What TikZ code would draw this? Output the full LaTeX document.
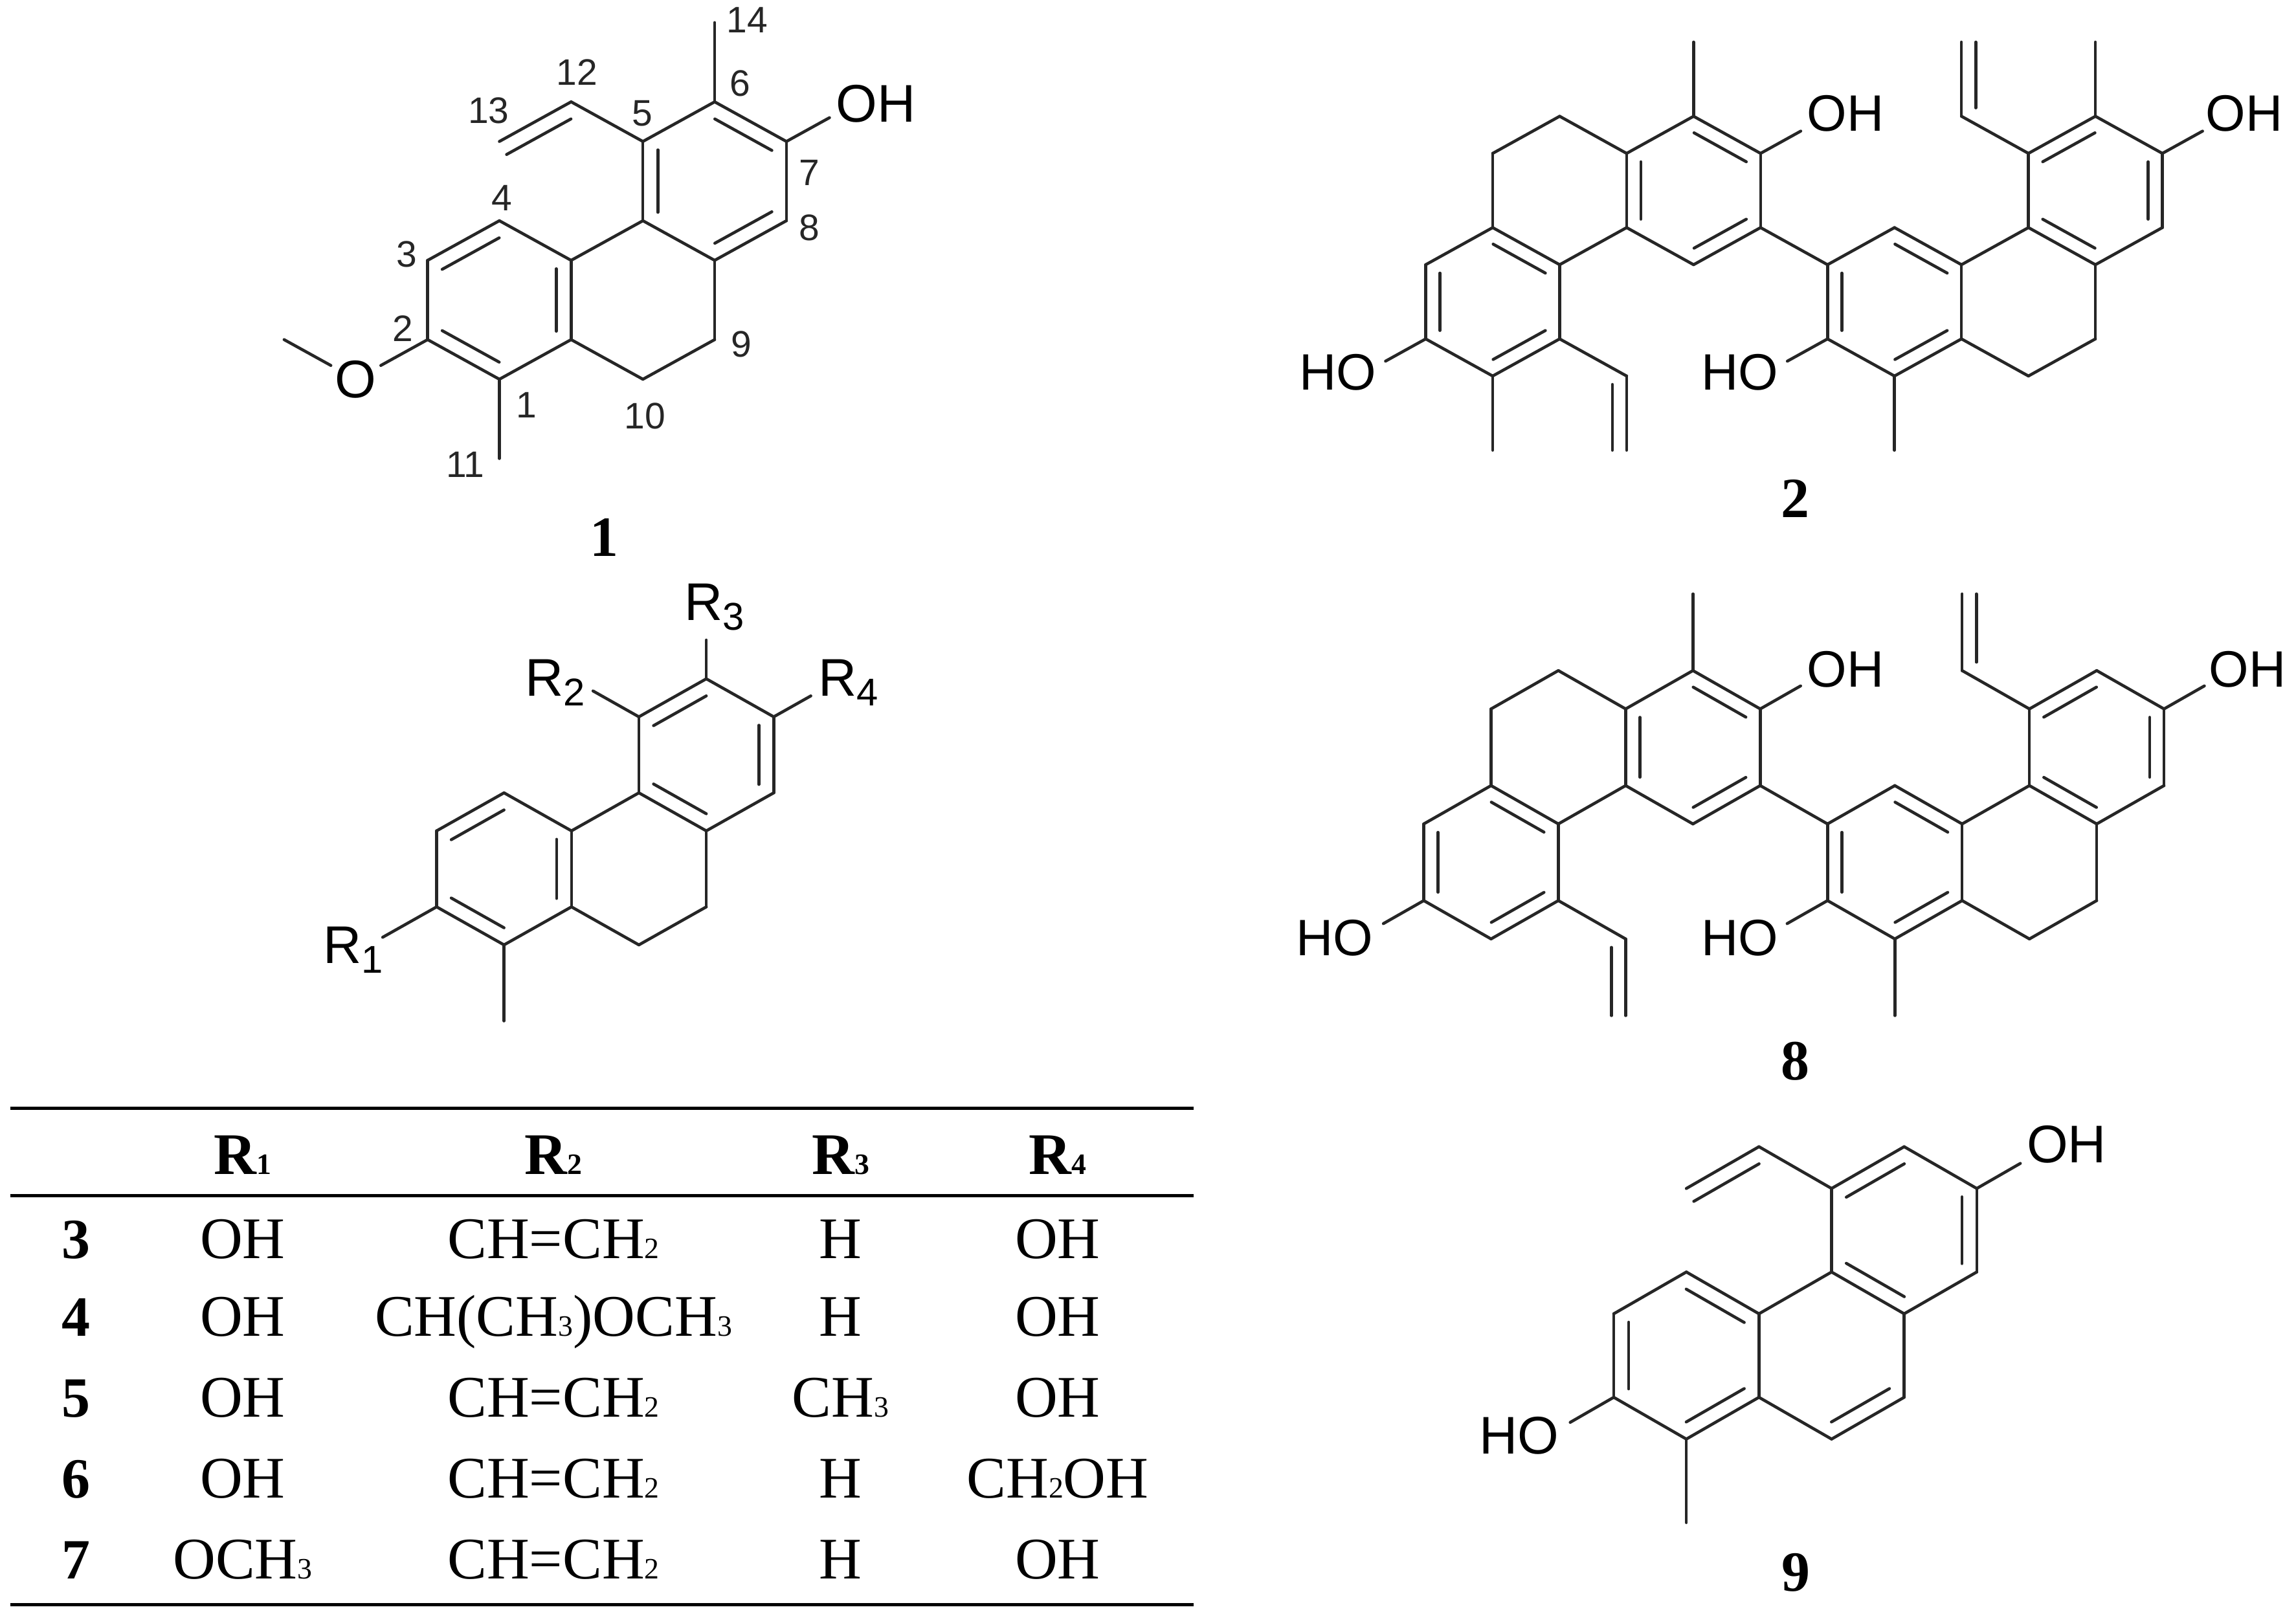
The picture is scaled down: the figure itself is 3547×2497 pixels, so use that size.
\documentclass[tikz,border=0pt]{standalone}
\usepackage{fontspec}
\setmainfont{Liberation Sans}
\newfontfamily\tabfont{Liberation Serif}
\usetikzlibrary{calc}
\newcommand\rsub[1]{\raisebox{-4.5pt}{\fontsize{17}{17}\selectfont #1}}
\newcommand\tabsub[1]{{\fontsize{13}{13}\selectfont #1}}

\begin{document}
\begin{tikzpicture}[
    x=0.01cm, y=-0.01cm,
    bond/.style={line width=1.3pt, color=black!85, line cap=round},
    inner/.style={bond, shorten <=0.13cm, shorten >=0.13cm},
    hetero/.style={font=\fontsize{#1}{#1}\selectfont, inner sep=0pt},
    hetero/.default=23.3,
    num/.style={font=\fontsize{16.2}{16.2}\selectfont, inner sep=0pt, color=black!85},
    cmpd/.style={font=\tabfont\bfseries\fontsize{25}{25}\selectfont, inner sep=0pt},
    cell/.style={font=\tabfont\fontsize{25.9}{25.9}\selectfont, inner sep=0pt, anchor=base},
    rule/.style={line width=1.4pt}
]
\useasboundingbox (0,0) rectangle (3547,2497);

% === COMPOUND 1 ===
\begin{scope}[shift={(660.6,586)}, x=1.108cm, y=0.612cm]
    \foreach \n/\i/\j in {c1/1/0, c2/0/1, c3/0/3, c4/1/4, c4a/2/3, c4b/3/4, c5/3/6, c6/4/7, c7/5/6, c8/5/4, c8a/4/3, c9/4/1, c10/3/0, c10a/2/1, c11/1/-2, c12/2/7, c13/1/6, c14/4/9, ometh/-2/1, ohend/5.6/6.6}
        \coordinate (\n) at (\i,\j);
    \node[hetero, inner sep=0.06cm] (ome) at (-1,0) {O};
\end{scope}
\foreach \a/\b in {c1/c2, c2/c3, c3/c4, c4/c4a, c4a/c10a, c10a/c1, c10a/c10, c10/c9, c9/c8a, c8a/c4b, c4b/c4a, c4b/c5, c5/c6, c6/c7, c7/c8, c8/c8a, c5/c12, c12/c13, c6/c14, c1/c11, c2/ome, ome/ometh, c7/ohend}
    \draw[bond] (\a) -- (\b);
\foreach \a/\b in {c2/c1, c10a/c4a, c4/c3, c5/c4b, c7/c6, c8a/c8}
    \draw[inner] ($(\a)!0.23cm!90:(\b)$) -- ($(\b)!0.23cm!-90:(\a)$);
\draw[inner, shorten >=0pt] ($(c12)!0.23cm!90:(c13)$) -- ($(c13)!0.23cm!-90:(c12)$);
\node[hetero] (oh1) at (1353,160) {OH};
\foreach \t/\px/\py in {14/1154/31, 12/891/112, 6/1143/129, 13/755/171, 5/992/175, 7/1250/267, 4/775/306, 8/1250/352, 3/628/393, 2/622/508, 9/1145/532, 1/813.5/626, 10/996/643, 11/719/718}
    \node[num] (n\t) at (\px,\py) {\t};
\node[cmpd] (label1) at (933,830) {1};

% === CORE WITH R GROUPS ===
\begin{scope}[shift={(674.5,1460)}, x=1.041cm, y=0.587cm]
    \foreach \n/\i/\j in {q1/1/0, q2/0/1, q3/0/3, q4/1/4, q4a/2/3, q4b/3/4, q5/3/6, q6/4/7, q7/5/6, q8/5/4, q8a/4/3, q9/4/1, q10/3/0, q10a/2/1, q11/1/-2, r1end/-0.8/0.2, r2end/2.32/6.68, r3end/4/8.02, r4end/5.55/6.55}
        \coordinate (\n) at (\i,\j);
\end{scope}
\foreach \a/\b in {q1/q2, q2/q3, q3/q4, q4/q4a, q4a/q10a, q10a/q1, q10a/q10, q10/q9, q9/q8a, q8a/q4b, q4b/q4a, q4b/q5, q5/q6, q6/q7, q7/q8, q8/q8a, q1/q11, q2/r1end, q5/r2end, q6/r3end, q7/r4end}
    \draw[bond] (\a) -- (\b);
\foreach \a/\b in {q2/q1, q10a/q4a, q4/q3, q4b/q8a, q8/q7, q6/q5}
    \draw[inner] ($(\a)!0.23cm!90:(\b)$) -- ($(\b)!0.23cm!-90:(\a)$);
\node[hetero, anchor=base] (r1) at (545.7,1488) {R\rsub{1}};
\node[hetero, anchor=base] (r2) at (858,1075) {R\rsub{2}};
\node[hetero, anchor=base] (r3) at (1103.7,958) {R\rsub{3}};
\node[hetero, anchor=base] (r4) at (1311,1075) {R\rsub{4}};

% === COMPOUNDS 2 AND 8 ===
\foreach \m/\ox/\oy/\ux/\uy in {b/2202.5/581/1.034/0.573, h/2199.5/1450.8/1.039/0.592} {
    \begin{scope}[shift={(\ox,\oy)}, x=\ux cm, y=\uy cm]
        \foreach \n/\i/\j in {l1/0/1, l2/1/0, l3/2/1, l4/2/3, l5/1/4, l6/0/3, l7/1/6, l8/2/7, l9/3/6, l10/3/4, l11/4/3, l12/5/4, l13/5/6, l14/4/7, lme/4/9, lv1/3/0, lv2/3/-2, ltwo/1/-2, r1/6/3, r2/6/1, r3/7/0, r4/8/1, r5/8/3, r6/7/4, r7/9/0, r8/10/1, r9/10/3, r10/9/4, r11/9/6, r12/10/7, r13/11/6, r14/11/4, rv1/8/7, rv2/8/9, rme/7/-2, rtwo/10/9, hol/-0.6/0.4, hor/5.4/0.4, ohl/5.6/6.6, ohr/11.6/6.6}
            \coordinate (\m-\n) at (\i,\j);
    \end{scope}
    \foreach \a/\b in {l1/l2, l2/l3, l3/l4, l4/l5, l5/l6, l6/l1, l5/l7, l7/l8, l8/l9, l9/l10, l10/l4, l10/l11, l11/l12, l12/l13, l13/l14, l14/l9, l14/lme, l3/lv1, lv1/lv2, l12/r1, r1/r2, r2/r3, r3/r4, r4/r5, r5/r6, r6/r1, r4/r7, r7/r8, r8/r9, r9/r10, r10/r5, r10/r11, r11/r12, r12/r13, r13/r14, r14/r9, r11/rv1, rv1/rv2, r3/rme, l1/hol, r2/hor, l13/ohl, r13/ohr}
        \draw[bond] (\m-\a) -- (\m-\b);
    \foreach \a/\b in {l2/l3, l4/l5, l6/l1, l11/l12, l13/l14, l9/l10, r3/r4, r5/r6, r1/r2, r10/r9, r14/r13, r12/r11}
        \draw[inner] ($(\m-\a)!0.22cm!90:(\m-\b)$) -- ($(\m-\b)!0.22cm!-90:(\m-\a)$);
    \foreach \a/\b in {rv2/rv1, lv2/lv1}
        \draw[inner, shorten <=0pt] ($(\m-\a)!0.22cm!90:(\m-\b)$) -- ($(\m-\b)!0.22cm!-90:(\m-\a)$);
}
% methyls only compound 2 carries
\draw[bond] (b-l2) -- (b-ltwo);
\draw[bond] (b-r12) -- (b-rtwo);
\node[hetero=22.5] (oh2a) at (2851,175) {OH};
\node[hetero=22.5] (oh2b) at (3467,175) {OH};
\node[hetero=22.5] (ho2a) at (2067,575) {HO};
\node[hetero=22.5] (ho2b) at (2688,575) {HO};
\node[cmpd] (label2) at (2773,770) {2};
\node[hetero=22.5] (oh8a) at (2851,1034) {OH};
\node[hetero=22.5] (oh8b) at (3472,1034) {OH};
\node[hetero=22.5] (ho8a) at (2062,1449) {HO};
\node[hetero=22.5] (ho8b) at (2688,1449) {HO};
\node[cmpd] (label8) at (2773,1640) {8};

% === COMPOUND 9 ===
\begin{scope}[shift={(2493,2223.6)}, x=1.121cm, y=0.645cm]
    \foreach \n/\i/\j in {s1/1/0, s2/0/1, s3/0/3, s4/1/4, s4a/2/3, s4b/3/4, s5/3/6, s6/4/7, s7/5/6, s8/5/4, s8a/4/3, s9/4/1, s10/3/0, s10a/2/1, s11/1/-2, s12/2/7, s13/1/6, hoend/-0.6/0.4, oh9end/5.6/6.6}
        \coordinate (\n) at (\i,\j);
\end{scope}
\foreach \a/\b in {s1/s2, s2/s3, s3/s4, s4/s4a, s4a/s10a, s10a/s1, s10a/s10, s10/s9, s9/s8a, s8a/s4b, s4b/s4a, s4b/s5, s5/s6, s6/s7, s7/s8, s8/s8a, s1/s11, s5/s12, s12/s13, s2/hoend, s7/oh9end}
    \draw[bond] (\a) -- (\b);
\foreach \a/\b in {s1/s10a, s4a/s4, s3/s2, s10/s9, s4b/s8a, s8/s7, s6/s5}
    \draw[inner] ($(\a)!0.23cm!90:(\b)$) -- ($(\b)!0.23cm!-90:(\a)$);
\draw[inner, shorten >=0pt] ($(s12)!0.23cm!90:(s13)$) -- ($(s13)!0.23cm!-90:(s12)$);
\node[hetero] (oh9) at (3192.6,1768.6) {OH};
\node[hetero] (ho9) at (2347,2218.6) {HO};
\node[cmpd] (label9) at (2774,2429.5) {9};

% === TABLE ===
\foreach \n/\ry in {1/1712.3, 2/1847.8, 3/2479.5} {
    \coordinate (rule\n l) at (15.6,\ry);
    \coordinate (rule\n r) at (1844,\ry);
    \draw[rule] (rule\n l) -- (rule\n r);
}
\node[cell, font=\tabfont\bfseries\fontsize{25.9}{25.9}\selectfont] (headA) at (375,1814.4) {R\tabsub{1}};
\node[cell, font=\tabfont\bfseries\fontsize{25.9}{25.9}\selectfont] (headB) at (855,1814.4) {R\tabsub{2}};
\node[cell, font=\tabfont\bfseries\fontsize{25.9}{25.9}\selectfont] (headC) at (1298.6,1814.4) {R\tabsub{3}};
\node[cell, font=\tabfont\bfseries\fontsize{25.9}{25.9}\selectfont] (headD) at (1634,1814.4) {R\tabsub{4}};
\foreach \row/\ry/\ra/\rb/\rc/\rd in {
    3/1944.2/OH/{CH=CH\tabsub{2}}/H/OH,
    4/2064/OH/{CH(CH\tabsub{3})OCH\tabsub{3}}/H/OH,
    5/2189/OH/{CH=CH\tabsub{2}}/{CH\tabsub{3}}/OH,
    6/2314/OH/{CH=CH\tabsub{2}}/H/{CH\tabsub{2}OH},
    7/2439/{OCH\tabsub{3}}/{CH=CH\tabsub{2}}/H/OH} {
    \node[cell, font=\tabfont\bfseries\fontsize{25}{25}\selectfont] (row\row) at (117.5,\ry) {\row};
    \node[cell] (row\row a) at (375,\ry) {\ra};
    \node[cell] (row\row b) at (855,\ry) {\rb};
    \node[cell] (row\row c) at (1298.6,\ry) {\rc};
    \node[cell] (row\row d) at (1634,\ry) {\rd};
}
\end{tikzpicture}
\end{document}
